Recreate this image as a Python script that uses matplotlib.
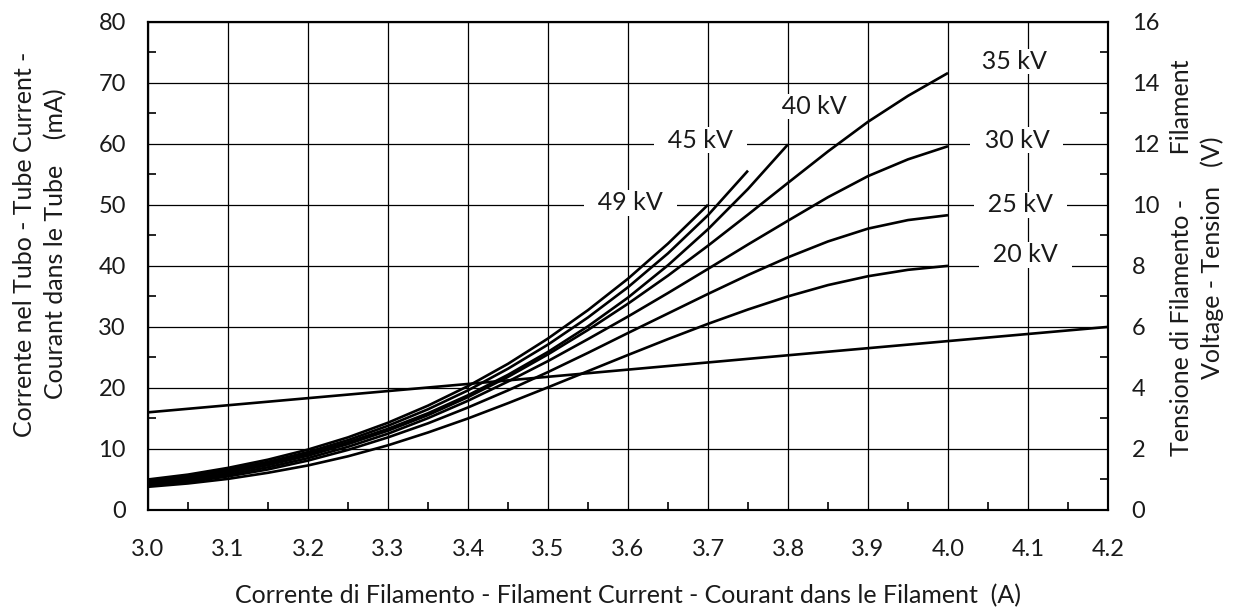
import matplotlib
matplotlib.use("Agg")
import matplotlib.pyplot as plt
from matplotlib.ticker import MultipleLocator

plt.rcParams['font.family'] = ['Lato', 'DejaVu Sans']

# Filament current (A)
x_full = [3.0, 3.05, 3.1, 3.15, 3.2, 3.25, 3.3, 3.35, 3.4, 3.45, 3.5, 3.55,
          3.6, 3.65, 3.7, 3.75, 3.8, 3.85, 3.9, 3.95, 4.0]
# Tube current (mA) per tube voltage
kv20 = [3.8, 4.35, 5.1, 6.1, 7.3, 8.8, 10.6, 12.7, 15.0, 17.5, 20.1, 22.75,
        25.4, 28.0, 30.5, 32.85, 35.0, 36.85, 38.3, 39.35, 40.0]
kv25 = [4.0, 4.6, 5.5, 6.65, 8.1, 9.85, 11.9, 14.2, 16.8, 19.6, 22.6, 25.75,
        29.0, 32.2, 35.4, 38.5, 41.4, 44.0, 46.1, 47.5, 48.3]
kv30 = [4.2, 4.85, 5.8, 7.0, 8.5, 10.35, 12.5, 15.05, 17.9, 21.05, 24.4, 28.0,
        31.7, 35.55, 39.5, 43.5, 47.4, 51.25, 54.7, 57.45, 59.6]
kv35 = [4.4, 5.1, 6.1, 7.35, 8.9, 10.8, 13.0, 15.55, 18.5, 21.8, 25.5, 29.5,
        33.8, 38.4, 43.3, 48.4, 53.6, 58.75, 63.6, 67.85, 71.6]
x_40 = [3.0, 3.05, 3.1, 3.15, 3.2, 3.25, 3.3, 3.35, 3.4, 3.45, 3.5, 3.55,
        3.6, 3.65, 3.7, 3.75, 3.8]
kv40 = [4.6, 5.4, 6.4, 7.65, 9.2, 11.1, 13.3, 15.85, 18.8, 22.15, 25.9, 30.1,
        34.8, 40.1, 46.0, 52.6, 59.9]
x_45 = [3.0, 3.05, 3.1, 3.15, 3.2, 3.25, 3.3, 3.35, 3.4, 3.45, 3.5, 3.55,
        3.6, 3.65, 3.7, 3.75]
kv45 = [4.8, 5.55, 6.6, 7.9, 9.5, 11.45, 13.8, 16.5, 19.6, 23.15, 27.1, 31.55,
        36.5, 42.05, 48.3, 55.6]
x_49 = [3.0, 3.05, 3.1, 3.15, 3.2, 3.25, 3.3, 3.35, 3.4, 3.45, 3.5, 3.55,
        3.6, 3.65, 3.7]
kv49 = [5.0, 5.8, 6.9, 8.25, 9.9, 11.9, 14.3, 17.1, 20.3, 23.95, 28.1, 32.75,
        37.9, 43.65, 50.0]

# Filament voltage (V) vs filament current
x_volt = [3.0, 3.4, 3.8, 4.2]
volt = [3.2, 4.13, 5.07, 6.0]

labels = ["20 kV", "25 kV", "30 kV", "35 kV", "40 kV", "45 kV", "49 kV"]
label_x = [4.097, 4.091, 4.086, 4.083, 3.833, 3.691, 3.603]
label_y = [41.8, 50.0, 60.6, 73.5, 66.1, 60.6, 50.3]
curves_x = [x_full, x_full, x_full, x_full, x_40, x_45, x_49]
curves_y = [kv20, kv25, kv30, kv35, kv40, kv45, kv49]

xticks = [3.0, 3.1, 3.2, 3.3, 3.4, 3.5, 3.6, 3.7, 3.8, 3.9, 4.0, 4.1, 4.2]
yticks_left = [0, 10, 20, 30, 40, 50, 60, 70, 80]
yticks_right = [0, 2, 4, 6, 8, 10, 12, 14, 16]

TXT = '#1a1a1a'
fig = plt.figure(figsize=(12.36, 6.13), dpi=100)
ax = fig.add_axes([148/1236, 1-510/613, 960/1236, 488.3/613])

for name, xs, ys, lx, ly in zip(labels, curves_x, curves_y, label_x, label_y):
    ax.plot(xs, ys, color='black', lw=1.9, zorder=4, solid_capstyle='butt',
            solid_joinstyle='round')
    ax.text(lx, ly, "  " + name + "  ", ha='center', va='center', fontsize=18,
            color=TXT, zorder=3,
            bbox=dict(boxstyle='square,pad=0.05', fc='white', ec='none'))

ax.set_xlim(3.0, 4.2)
ax.set_ylim(0, 80)
ax.set_xticks(xticks)
ax.set_xticklabels([f"{v:.1f}" for v in xticks])
ax.set_yticks(yticks_left)
ax.xaxis.set_minor_locator(MultipleLocator(0.05))
ax.yaxis.set_minor_locator(MultipleLocator(5))
ax.grid(True, which='major', color='black', lw=0.9, zorder=1)
ax.set_axisbelow(True)
ax.tick_params(axis='both', which='both', direction='in', top=False, right=False,
               labelsize=17, colors=TXT)
ax.tick_params(axis='x', which='major', length=0, pad=21)
ax.tick_params(axis='y', which='major', length=0, pad=16)
ax.tick_params(which='minor', length=6, width=1.2, color='black')
for s in ax.spines.values():
    s.set_linewidth(1.5)
    s.set_color('black')

ax2 = ax.twinx()
ax2.plot(x_volt, volt, color='black', lw=1.9, zorder=4)
ax2.set_ylim(0, 16)
ax2.set_yticks(yticks_right)
ax2.yaxis.set_minor_locator(MultipleLocator(1))
ax2.tick_params(axis='y', which='both', direction='in', labelsize=17, colors=TXT)
ax2.tick_params(axis='y', which='major', length=0, pad=17)
ax2.tick_params(axis='y', which='minor', length=6, width=1.2, color='black')
for s in ax2.spines.values():
    s.set_linewidth(1.5)
    s.set_color('black')

fig.text(40/1236, 1-244/613, "Corrente nel Tubo - Tube Current -\nCourant dans le Tube    (mA)",
         rotation=90, ha='center', va='center', multialignment='center',
         fontsize=18, color=TXT, linespacing=1.4)
fig.text(1197/1236, 1-258/613, "Tensione di Filamento -       Filament\nVoltage - Tension   (V)",
         rotation=90, ha='center', va='center', multialignment='center',
         fontsize=18, color=TXT, linespacing=1.4)
fig.text(628/1236, 1-596/613,
         "Corrente di Filamento - Filament Current - Courant dans le Filament  (A)",
         ha='center', va='center', fontsize=18, color=TXT)

fig.savefig("out.png", dpi=100)
